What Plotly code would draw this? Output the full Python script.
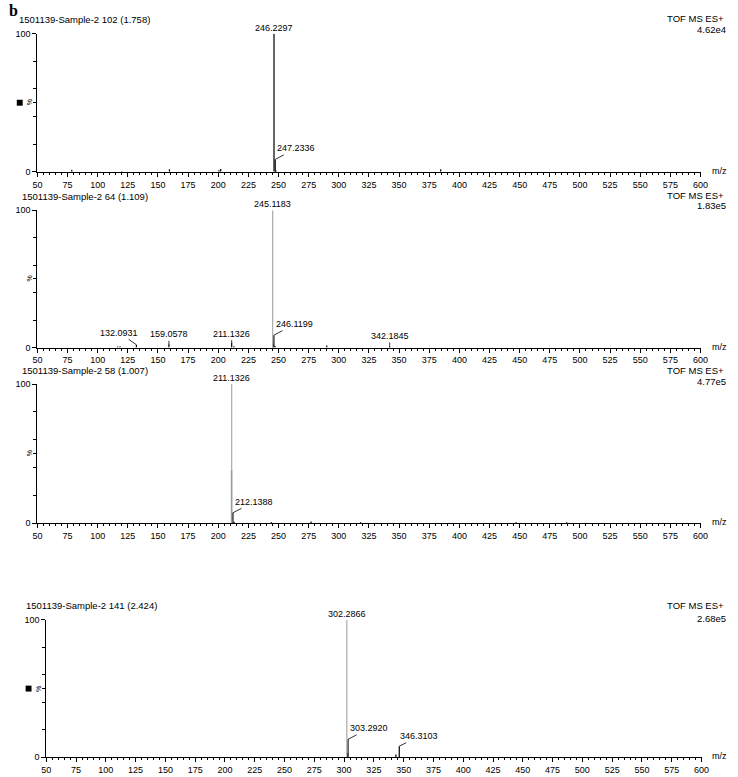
import plotly.graph_objects as go

W, H = 738, 777
FONT = "Liberation Sans, Arial, sans-serif"

# ---- data ----
titles = [
    "1501139-Sample-2 102 (1.758)",
    "1501139-Sample-2 64 (1.109)",
    "1501139-Sample-2 58 (1.007)",
    "1501139-Sample-2 141 (2.424)",
]
scan_mode = "TOF MS ES+"
base_counts = ["4.62e4", "1.83e5", "4.77e5", "2.68e5"]

# base peaks (100 %)
base_mz = [246.2297, 245.1183, 211.1326, 302.2866]
base_color = ["black", "#aaaaaa", "#aaaaaa", "#aaaaaa"]

# other peaks, relative intensity %
p1_mz = [78.5, 120.0, 159.5, 200.5, 202.0, 247.2336, 247.9, 384.5]
p1_int = [1.5, 0.5, 1.8, 1.2, 2.0, 9.0, 1.0, 1.8]

p2_mz = [116.5, 118.5, 132.0931, 159.0578, 211.1326, 213.0, 245.6, 246.1199, 247.1, 290.0, 342.1845]
p2_int = [0.8, 1.0, 2.0, 3.0, 3.6, 1.0, 3.0, 9.0, 1.2, 1.5, 1.2]

p3_mz = [211.0, 212.1388, 213.1, 244.0, 277.0, 318.0, 447.0, 489.0]
p3_int = [38.0, 7.5, 1.0, 0.8, 1.2, 0.8, 0.8, 0.8]

p4_mz = [302.9, 303.2920, 343.5, 346.3103]
p4_int = [3.0, 13.0, 2.0, 8.0]

other_mz = [p1_mz, p2_mz, p3_mz, p4_mz]
other_int = [p1_int, p2_int, p3_int, p4_int]

# labelled peaks: (m/z, intensity, text offset x, text offset y)
labels = [
    [(247.2336, 9.0, 21, -11)],
    [(132.0931, 2.0, -17, -12), (159.0578, 3.0, 0, -9), (211.1326, 3.6, 0, -9),
     (246.1199, 9.0, 21, -11), (342.1845, 1.2, 0, -10)],
    [(212.1388, 7.5, 21, -11)],
    [(303.2920, 13.0, 21, -11), (346.3103, 8.0, 20, -10)],
]

# panel geometry in pixels: x of 50, x of 600, y of 0 %, y of 100 %
panels = [
    (33, 708, 169, 29),
    (33, 708, 347, 208),
    (33, 708, 525, 384),
    (42, 709, 762, 623),
]
title_y = [15, 194, 370, 608]
title_x = [12, 15, 15, 19]
tof_y = [14, 193, 370, 608]
count_y = [25, 203, 381, 622]


def sticks(mz, inten):
    xs, ys = [], []
    for m, v in zip(mz, inten):
        xs += [m, m, None]
        ys += [0, v, None]
    return xs, ys


def paper(x, y, text, font, xanchor="left", **kw):
    return dict(x=x / W, y=1 - y / H, xref="paper", yref="paper", text=text,
                showarrow=False, xanchor=xanchor, yanchor="middle", font=font, **kw)


fig = go.Figure()
annotations = []
shapes = []
layout = {}
small = dict(family=FONT, size=9, color="black")
head = dict(family=FONT, size=9.5, color="black")

for i, (x0, x1, y0, y100) in enumerate(panels):
    n = "" if i == 0 else str(i + 1)
    xa, ya = "x" + n, "y" + n
    xs, ys = sticks(other_mz[i], other_int[i])
    fig.add_trace(go.Scatter(x=xs, y=ys, mode="lines", xaxis=xa, yaxis=ya,
                             line=dict(color="black", width=1.2), hoverinfo="skip"))
    bx, by = sticks([base_mz[i]], [100])
    fig.add_trace(go.Scatter(x=bx, y=by, mode="lines", xaxis=xa, yaxis=ya,
                             line=dict(color=base_color[i], width=1.2), hoverinfo="skip"))

    layout["xaxis" + n] = dict(
        domain=[x0 / W, x1 / W], anchor=ya, range=[50, 600],
        tick0=50, dtick=25, ticks="outside", ticklen=4, tickwidth=1,
        tickcolor="black", showline=True, linecolor="black", linewidth=1,
        showgrid=False, zeroline=False, tickfont=small,
        minor=dict(dtick=5, ticks="outside", ticklen=2, tickcolor="black"),
    )
    layout["yaxis" + n] = dict(
        domain=[1 - y0 / H, 1 - y100 / H], anchor=xa, range=[0, 100],
        tickvals=[0, 100], ticktext=["0", "100"], ticks="outside", ticklen=4,
        tickcolor="black", showline=True, linecolor="black", linewidth=1,
        showgrid=False, zeroline=False, tickfont=small,
        minor=dict(tickvals=[20, 40, 50, 60, 80], ticks="outside", ticklen=3,
                   tickcolor="black"),
    )

    # base peak label
    annotations.append(dict(x=base_mz[i], y=100, xref=xa, yref=ya,
                            text=f"{base_mz[i]:.4f}", showarrow=False,
                            yanchor="bottom", yshift=-1, font=small))
    for m, v, ax, ay in labels[i]:
        annotations.append(dict(x=m, y=v, xref=xa, yref=ya, text=f"{m:.4f}",
                                showarrow=True, arrowhead=0, arrowwidth=0.8,
                                arrowcolor="black", ax=ax, ay=ay, standoff=0,
                                font=small))
    # header texts
    annotations.append(paper(title_x[i], title_y[i], titles[i], head))
    annotations.append(paper(734, tof_y[i], scan_mode, head, "right"))
    annotations.append(paper(736, count_y[i], base_counts[i], head, "right"))
    annotations.append(paper(718, y0 - 1, "m/z", small))
    annotations.append(paper(x0 - 8, (y0 + y100) / 2, "%",
                             dict(family=FONT, size=7, color="black"), "center",
                             textangle=-90))

# little black squares beside panels 1 and 4
for i in (0, 3):
    x0, x1, y0, y100 = panels[i]
    cy = (y0 + y100) / 2
    shapes.append(dict(type="rect", xref="paper", yref="paper",
                       x0=(x0 - 21) / W, x1=(x0 - 15) / W,
                       y0=1 - (cy + 3) / H, y1=1 - (cy - 3) / H,
                       fillcolor="black", line=dict(width=0)))

annotations.append(paper(2, 6, "<b>b</b>",
                         dict(family="Liberation Serif, Times New Roman, serif",
                              size=16, color="black")))

fig.update_layout(
    width=W, height=H, margin=dict(l=0, r=0, t=0, b=0),
    paper_bgcolor="white", plot_bgcolor="white", showlegend=False,
    annotations=annotations, shapes=shapes, **layout,
)

fig.write_html(
    "out.html",
    config={"displayModeBar": False},
    post_script="document.body.style.margin='0';"
                "document.body.style.overflow='hidden';"
                "document.documentElement.style.overflow='hidden';",
)
